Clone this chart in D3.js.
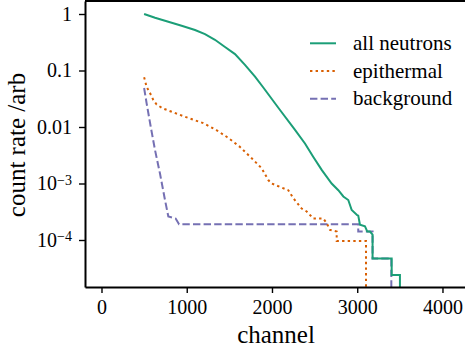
<!DOCTYPE html>
<html><head><meta charset="utf-8">
<script src="https://cdn.jsdelivr.net/npm/d3@7"></script>
<style>
body{margin:0;background:#fff}
text{font-family:"Liberation Serif","DejaVu Serif",serif;fill:#000}
</style>
</head><body>
<svg id="c" width="465" height="349" font-family="Liberation Serif"></svg>
<script>
// channel values and count rates
const allChannel = [500,628,784,940,1097,1214,1331,1449,1566,1683,1801,1898,2094,2270,2387,2485,2583,2700,2778,2837,2895,2935,3000,3012,3032,3091,3118,3150,3180,3180,3404,3404,3501,3501];
const allRate    = [1.0,0.86,0.73,0.62,0.52,0.44,0.35,0.26,0.195,0.126,0.078,0.050,0.020,0.0089,0.0051,0.00295,0.00174,0.0010,0.00076,0.00059,0.00051,0.00034,0.000275,0.00027,0.000186,0.000174,0.000141,0.000141,0.000125,0.000047,0.000047,0.000024,0.000024,0.000005];

const epiChannel = [500,530,569,608,647,718,874,1038,1194,1343,1476,1620,1762,1879,1957,1996,2094,2191,2250,2348,2407,2485,2602,2641,2680,2759,2759,3103,3103];
const epiRate    = [0.076,0.051,0.040,0.030,0.025,0.0214,0.0174,0.0141,0.0117,0.0089,0.0066,0.0045,0.0028,0.00186,0.00115,0.0010,0.00087,0.00076,0.00055,0.00036,0.00032,0.00024,0.00024,0.00020,0.000151,0.000141,0.000096,0.000096,0.000005];

const bgChannel = [500,530,577,628,686,745,784,870,910,3012,3012,3180,3180,3400,3400];
const bgRate    = [0.049,0.026,0.0102,0.0039,0.0015,0.00051,0.00026,0.00024,0.00019,0.00019,0.000141,0.000141,0.000047,0.000047,0.000005];

const seriesNames = ["all neutrons","epithermal","background"];
const xTickValues = [0,1000,2000,3000,4000];
const yTickValues = [1,0.1,0.01,0.001,0.0001];
const yTickLabels = ["1","0.1","0.01","10^−3","10^−4"];

const svg = d3.select("#c");
const L = 85, R = 466, T = 1, B = 287;
const x = d3.scaleLinear().domain([-193.5, 4276]).range([L, R]);
const yTopLog = (14 - T) / 56.5, yBotLog = -(B - 14) / 56.5;
const y = d3.scaleLog().domain([Math.pow(10, yBotLog), Math.pow(10, yTopLog)]).range([B, T]);

svg.append("clipPath").attr("id","clip").append("rect")
  .attr("x", L).attr("y", T).attr("width", R - L).attr("height", B - T);

const series = [
  {name: seriesNames[0], ch: allChannel, v: allRate, color: "#1b9e77", dash: null},
  {name: seriesNames[1], ch: epiChannel, v: epiRate, color: "#d95f02", dash: "2.4,3.2"},
  {name: seriesNames[2], ch: bgChannel, v: bgRate, color: "#7570b3", dash: "7.4,3.2"}
];
const line = d3.line().x(d => x(d[0])).y(d => y(d[1]));
const g = svg.append("g").attr("clip-path","url(#clip)");
series.slice().reverse().forEach(s => {
  g.append("path").datum(s.ch.map((c,i)=>[c, s.v[i]]))
    .attr("d", line).attr("fill","none").attr("stroke", s.color)
    .attr("stroke-width", 2).attr("stroke-dasharray", s.dash);
});

// axes
const xa = svg.append("g").attr("transform", `translate(0,${B})`)
  .call(d3.axisBottom(x).tickValues(xTickValues).tickFormat(d3.format("d")).tickSize(6).tickPadding(7).tickSizeOuter(0));
xa.attr("font-family", null);
xa.selectAll("text").style("font-size","20px").style("font-family",'"Liberation Serif",serif');
const ya = svg.append("g").attr("transform", `translate(${L},0)`)
  .call(d3.axisLeft(y).tickValues(yTickValues).tickFormat((d,i)=>yTickLabels[i]).tickSize(6).tickPadding(7).tickSizeOuter(0));
ya.attr("font-family", null);
ya.selectAll("text").style("font-size","20px").style("font-family",'"Liberation Serif",serif')
  .each(function(d,i){
    const lab = yTickLabels[i];
    if (lab.includes("^")) {
      const [b, e] = lab.split("^");
      const t = d3.select(this); t.text(null);
      t.append("tspan").text(b);
      t.append("tspan").attr("dy","-0.42em").style("font-size","14px").text(e);
    }
  });
[xa, ya].forEach(a => {
  a.selectAll(".tick line").attr("stroke","#000").attr("stroke-width",1.4);
  a.select(".domain").attr("stroke","#000").attr("stroke-width",2);
});
svg.append("line").attr("x1", L).attr("x2", R).attr("y1", T).attr("y2", T)
  .attr("stroke","#000").attr("stroke-width",2);

// labels
svg.append("text").attr("x", 276).attr("y", 343).attr("text-anchor","middle")
  .style("font-size","25px").text("channel");
svg.append("text").attr("transform","translate(25,145) rotate(-90)").attr("text-anchor","middle")
  .style("font-size","25px").text("count rate /arb");

// legend
const lg = svg.append("g");
series.forEach((s,i) => {
  const yy = 43.3 + i * 27.7;
  lg.append("line").attr("x1", 310).attr("x2", 336).attr("y1", yy).attr("y2", yy)
    .attr("stroke", s.color).attr("stroke-width", 2).attr("stroke-dasharray", s.dash);
  lg.append("text").attr("x", 353).attr("y", yy + 6.6).style("font-size","21px").text(s.name);
});
</script>
</body></html>
